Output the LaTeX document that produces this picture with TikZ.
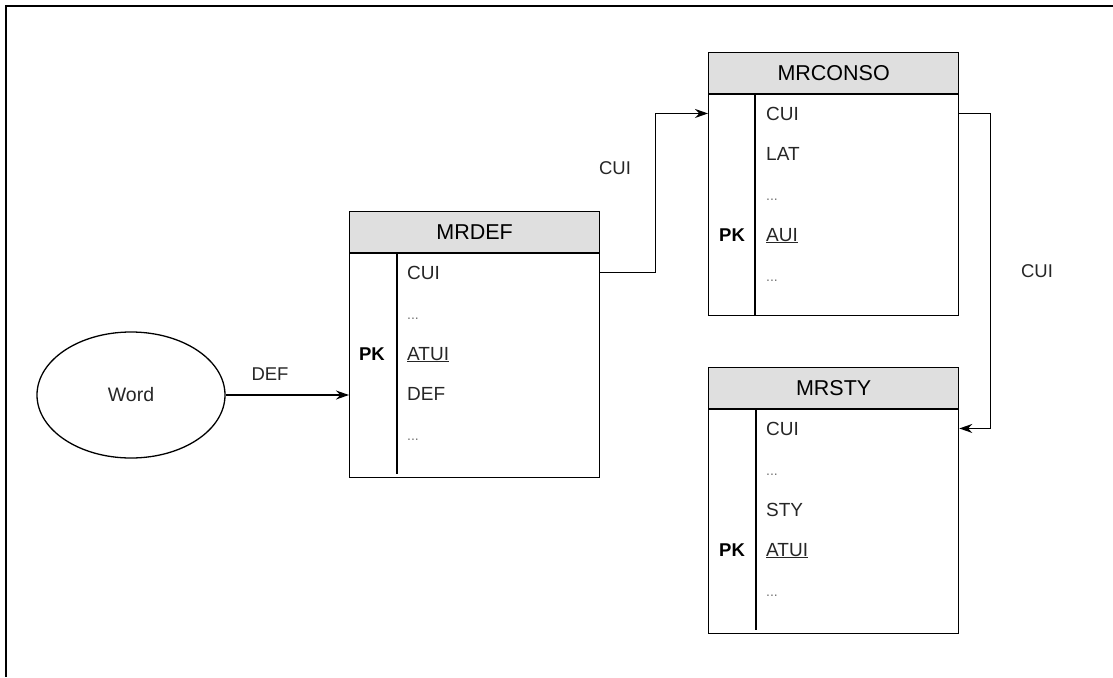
\documentclass[tikz,border=0pt]{standalone}
\usepackage{fontspec}
\setmainfont{Liberation Sans}
\usetikzlibrary{shapes.geometric,arrows.meta}
\begin{document}
\begin{tikzpicture}[x=1pt, y=-1pt,
    trait/.style={line width=1.3pt},
    entete/.style={draw, trait, fill=gray!25, minimum width=250pt, minimum height=41pt, inner sep=0pt, anchor=south west, font=\fontsize{21.5}{26}\selectfont},
    corps/.style={draw, trait, minimum width=250pt, inner sep=0pt, anchor=north west},
    champ/.style={anchor=base west, inner sep=0pt, text=black!85, font=\fontsize{19}{22}\selectfont},
    etc/.style={anchor=base west, inner sep=0pt, text=black!55, font=\fontsize{14}{16}\selectfont},
    cle/.style={anchor=base, inner sep=0pt, font=\fontsize{18.5}{22}\selectfont\bfseries},
    etiq/.style={inner sep=0pt, text=black!85, font=\fontsize{18.5}{22}\selectfont},
    lien/.style={trait, ->, >={Stealth[length=13pt, width=9pt]}}]
    \useasboundingbox (0,0) rectangle (1113,677);

    % Cadre (haut et gauche)
    \draw[line width=2pt] (1113,6) -- (6,6) -- (6,677);

    % Mot
    \node[draw, trait, ellipse, minimum width=188pt, minimum height=126pt, inner sep=0pt, font=\fontsize{19.5}{22}\selectfont, text=black!85] (word) at (131,395) {Word};

    % Table MRDEF
    \node[entete] (mrdef) at (349,253) {MRDEF};
    \node[corps, minimum height=224pt] (corpsdef) at (349,253) {};
    \draw[trait] (397,253) -- (397,474);
    \node[champ] (def1) at (407,279) {CUI};
    \node[etc] (def2) at (407,319) {...};
    \node[champ] (def3) at (407,360) {\underline{ATUI}};
    \node[cle] (pkdef) at (372,360) {PK};
    \node[champ] (def4) at (407,400) {DEF};
    \node[etc] (def5) at (407,440) {...};

    % Table MRCONSO
    \node[entete] (mrconso) at (708,94) {MRCONSO};
    \node[corps, minimum height=221pt] (corpsconso) at (708,94) {};
    \draw[trait] (755,94) -- (755,315);
    \node[champ] (conso1) at (766,120) {CUI};
    \node[champ] (conso2) at (766,160) {LAT};
    \node[etc] (conso3) at (766,200) {...};
    \node[champ] (conso4) at (766,241) {\underline{AUI}};
    \node[cle] (pkconso) at (732,241) {PK};
    \node[etc] (conso5) at (766,281) {...};

    % Table MRSTY
    \node[entete] (mrsty) at (708,409) {MRSTY};
    \node[corps, minimum height=224pt] (corpssty) at (708,409) {};
    \draw[trait] (756,409) -- (756,630);
    \node[champ] (sty1) at (766,435) {CUI};
    \node[etc] (sty2) at (766,475) {...};
    \node[champ] (sty3) at (766,516) {STY};
    \node[champ] (sty4) at (766,556) {\underline{ATUI}};
    \node[cle] (pksty) at (732,556) {PK};
    \node[etc] (sty5) at (766,596) {...};

    % Liens
    \draw[lien] (word.east) -- (word.east -| corpsdef.west);
    \node[etiq] (ldef) at (270,374) {DEF};

    \draw[lien] (def1 -| corpsdef.east) -- ++(55,0) |- (conso1 -| corpsconso.west);
    \node[etiq] (lcui1) at (615,168) {CUI};

    \draw[lien] (conso1 -| corpsconso.east) -- ++(31,0) |- (sty1 -| corpssty.east);
    \node[etiq] (lcui2) at (1037,271) {CUI};
\end{tikzpicture}
\end{document}
